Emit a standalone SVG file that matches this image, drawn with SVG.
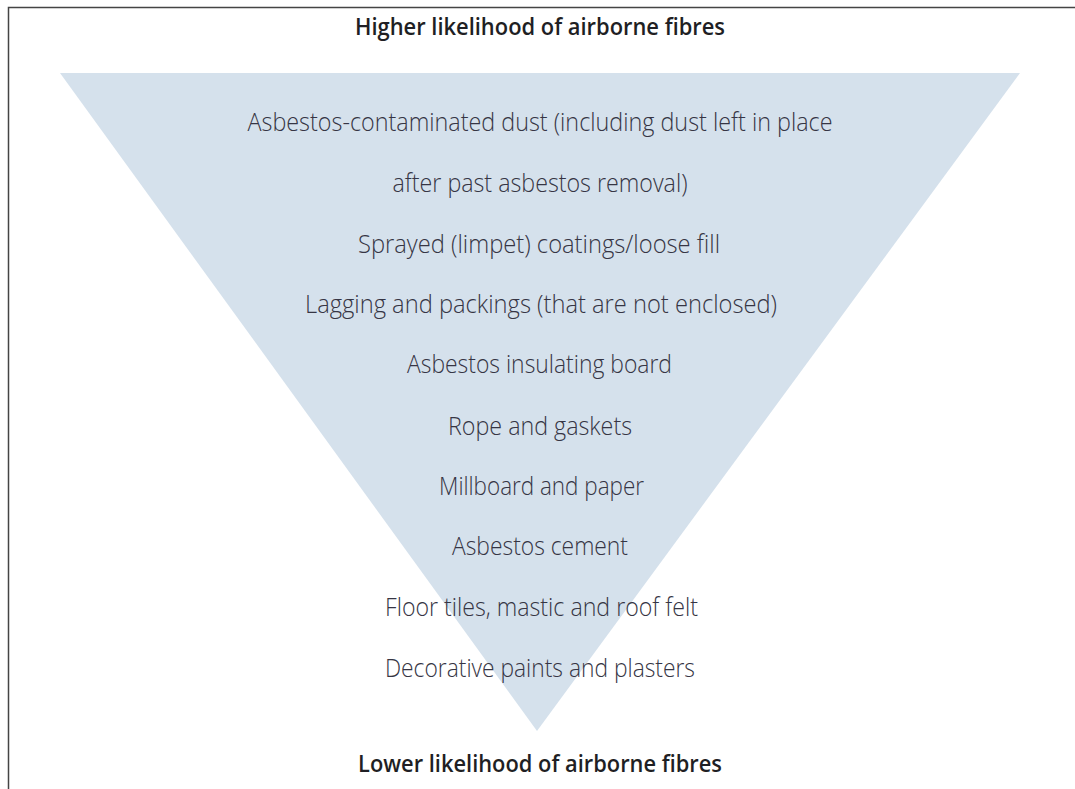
<svg xmlns="http://www.w3.org/2000/svg" width="1075" height="789" viewBox="0 0 1075 789">
<style>
.item{font-family:"Open Sans","Liberation Sans",sans-serif;font-weight:300;font-size:25px;fill:#363544;text-anchor:middle}
.head{font-family:"Open Sans","Liberation Sans",sans-serif;font-weight:600;font-size:24px;fill:#1f1f24;text-anchor:middle}
</style>
<rect width="1075" height="789" fill="#ffffff"/>
<path d="M8.5 789 V7.5 H1075" fill="none" stroke="#444" stroke-width="1.5"/>
<g id="triangle"><polygon points="60,73 1020,73 537,731" fill="#d5e1ec"/></g>
<g id="headings">
<text class="head" x="540" y="35" textLength="370" lengthAdjust="spacingAndGlyphs">Higher likelihood of airborne fibres</text>
<text class="head" x="540" y="772" textLength="364" lengthAdjust="spacingAndGlyphs">Lower likelihood of airborne fibres</text>
</g>
<g id="items">
<text class="item" x="540" y="131" textLength="585" lengthAdjust="spacingAndGlyphs">Asbestos-contaminated dust (including dust left in place</text>
<text class="item" x="540" y="191.5" textLength="295" lengthAdjust="spacingAndGlyphs">after past asbestos removal)</text>
<text class="item" x="539" y="252.5" textLength="362" lengthAdjust="spacingAndGlyphs">Sprayed (limpet) coatings/loose fill</text>
<text class="item" x="541" y="313" textLength="472" lengthAdjust="spacingAndGlyphs">Lagging and packings (that are not enclosed)</text>
<text class="item" x="539.5" y="373" textLength="265" lengthAdjust="spacingAndGlyphs">Asbestos insulating board</text>
<text class="item" x="540" y="434.5" textLength="184" lengthAdjust="spacingAndGlyphs">Rope and gaskets</text>
<text class="item" x="541.5" y="495" textLength="205" lengthAdjust="spacingAndGlyphs">Millboard and paper</text>
<text class="item" x="540" y="555" textLength="176" lengthAdjust="spacingAndGlyphs">Asbestos cement</text>
<text class="item" x="541.5" y="615.5" textLength="313" lengthAdjust="spacingAndGlyphs">Floor tiles, mastic and roof felt</text>
<text class="item" x="540" y="676.5" textLength="310" lengthAdjust="spacingAndGlyphs">Decorative paints and plasters</text>
</g>
</svg>
